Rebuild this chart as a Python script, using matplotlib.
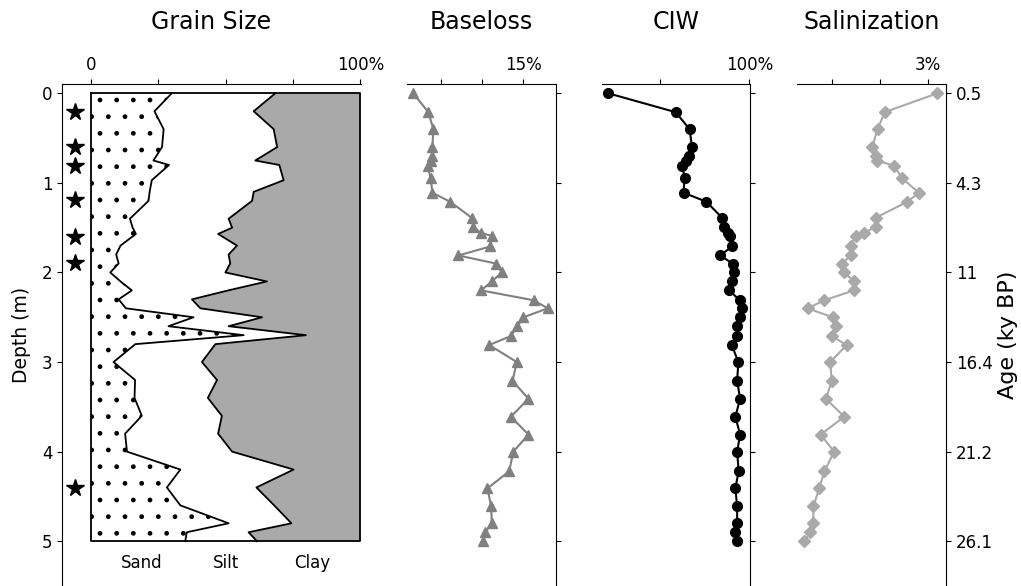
import matplotlib
matplotlib.use("Agg")
import matplotlib.pyplot as plt

# grain size (cumulative %, sampled down the core)
grain_depth = [0.0, 0.2, 0.4, 0.6, 0.75, 0.8, 0.97, 1.1, 1.2, 1.4, 1.5, 1.57, 1.7, 1.8,
               1.9, 2.0, 2.1, 2.2, 2.3, 2.4, 2.5, 2.6, 2.7, 2.8, 3.0, 3.2, 3.4, 3.6,
               3.8, 4.0, 4.2, 4.4, 4.6, 4.8, 4.9, 5.0]
sand = [30, 23.6, 27, 26.4, 23.2, 29, 22.6, 21.8, 21.4, 14.5, 15.5, 16.7, 11, 9.4,
        10.3, 7.2, 11, 15.2, 10.3, 13, 38.1, 28.8, 56.7, 16.5, 8.4, 16.4, 16.2, 18.9,
        12.7, 13.4, 33.2, 28.2, 33.2, 51.1, 35.6, 35]
sand_silt = [68.4, 60.4, 67.8, 69.1, 61, 69.9, 71.5, 60.4, 59.8, 51.1, 52.4, 47.2, 54.2, 51.1,
             51.7, 49.9, 65.3, 51, 37.5, 40.6, 63.5, 51.1, 79.8, 46.2, 41.2, 46.8, 43.4, 48.6,
             47.2, 52.4, 75.2, 61.4, 68, 74.4, 58.5, 61.6]
star_depth = [0.21, 0.6, 0.81, 1.19, 1.6, 1.89, 4.41]

# geochemistry samples
depth = [0.0, 0.21, 0.4, 0.6, 0.7, 0.75, 0.81, 0.95, 1.11, 1.21, 1.39, 1.49, 1.56, 1.59,
         1.71, 1.81, 1.9, 2.0, 2.1, 2.2, 2.31, 2.4, 2.5, 2.6, 2.71, 2.81, 3.0, 3.21,
         3.41, 3.61, 3.81, 4.0, 4.22, 4.41, 4.61, 4.8, 4.9, 5.0]
baseloss = [1.6, 3.45, 4.06, 3.94, 3.94, 3.78, 3.38, 3.74, 3.94, 6.1, 8.74, 8.94, 9.84, 11.18,
            10.98, 7.11, 11.67, 12.4, 11.18, 9.88, 16.26, 18.0, 15.04, 14.3, 13.5, 10.85, 14.23, 13.7,
            15.65, 13.5, 15.65, 13.8, 13.3, 10.65, 11.1, 11.18, 10.37, 10.16]
ciw = [52.8, 75.3, 80, 80.8, 79.7, 78.9, 77.6, 78.3, 78, 85.6, 90.9, 91.4, 92.8, 93.6,
       94.2, 90.2, 94.4, 95, 94.1, 93.3, 96.7, 97.6, 96.7, 95.9, 95.9, 94.1, 96.3, 95.9,
       96.9, 95.3, 96.9, 95.9, 96.4, 95.3, 95.9, 95.9, 95.3, 95.9]
salinization = [3.19, 2.10, 1.95, 1.84, 1.91, 1.94, 2.30, 2.46, 2.81, 2.57, 1.91, 1.91, 1.67, 1.50,
                1.39, 1.39, 1.22, 1.26, 1.46, 1.46, 0.85, 0.50, 1.02, 1.09, 1.0, 1.31, 0.97, 1.0,
                0.88, 1.26, 0.77, 1.05, 0.85, 0.74, 0.62, 0.62, 0.55, 0.43]

depth_ticks = [0, 1, 2, 3, 4, 5]
age_labels = ["0.5", "4.3", "11", "16.4", "21.2", "26.1"]

W, H = 1021, 586
plt.rcParams["hatch.color"] = "black"
fig = plt.figure(figsize=(W / 100, H / 100), dpi=100)

top = 1 - 84 / H
ylim = (5.5, -0.104)


def make_ax(left_px, right_px):
    return fig.add_axes([left_px / W, 0, (right_px - left_px) / W, top])


ax_g = make_ax(62, 361)
ax_b = make_ax(407, 556)
ax_c = make_ax(602, 750)
ax_s = make_ax(797, 946)

# grain size column
ax_g.fill_betweenx(grain_depth, 0, sand, facecolor="white", hatch=".", edgecolor="black", linewidth=0)
ax_g.fill_betweenx(grain_depth, sand_silt, 100, facecolor="darkgray", linewidth=0)
ax_g.plot(sand, grain_depth, color="black", lw=1.3)
ax_g.plot(sand_silt, grain_depth, color="black", lw=1.3)
ax_g.plot([0, 0, 100, 100, 0], [0, 5, 5, 0, 0], color="black", lw=1.3)
ax_g.plot([-6] * len(star_depth), star_depth, "*", color="black", markersize=13, clip_on=False)
for label, xv in [("Sand", 18.7), ("Silt", 50.2), ("Clay", 82)]:
    ax_g.text(xv, 5.24, label, ha="center", va="center", fontsize=12)
ax_g.set_xlim(-10.7, 100.2)
ax_g.set_xticks([0, 25, 50, 75, 100])
ax_g.set_xticklabels(["0", "", "", "", "100%"])
ax_g.set_yticks(depth_ticks)
ax_g.set_ylabel("Depth (m)", fontsize=13.5, labelpad=8)
for s in ["right", "bottom"]:
    ax_g.spines[s].set_visible(False)

# line panels
ax_b.plot(baseloss, depth, "-^", color="gray", lw=1.5, markersize=7)
ax_b.set_xlim(0.85, 19.0)
ax_b.set_xticks([5, 10, 15])
ax_b.set_xticklabels(["", "", "15%"])

ax_c.plot(ciw, depth, "-o", color="black", lw=1.5, markersize=7)
ax_c.set_xlim(50.7, 100.2)
ax_c.set_xticks([70, 100])
ax_c.set_xticklabels(["", "100%"])

ax_s.plot(salinization, depth, "-D", color="darkgray", lw=1.5, markersize=6)
ax_s.set_xlim(0.28, 3.37)
ax_s.set_xticks([1, 2, 3])
ax_s.set_xticklabels(["", "", "3%"])

for ax in [ax_b, ax_c, ax_s]:
    for s in ["left", "bottom"]:
        ax.spines[s].set_visible(False)
    ax.yaxis.tick_right()
    ax.set_yticks(depth_ticks)
    ax.set_yticklabels([])
ax_s.set_yticklabels(age_labels)
ax_s.yaxis.set_label_position("right")
ax_s.set_ylabel("Age (ky BP)", fontsize=16)

for ax in [ax_g, ax_b, ax_c, ax_s]:
    ax.set_ylim(*ylim)
    ax.xaxis.tick_top()
    ax.tick_params(labelsize=12)

titles = [("Grain Size", 211.5), ("Baseloss", 481.5), ("CIW", 676), ("Salinization", 871.5)]
for t, xp in titles:
    fig.text(xp / W, 1 - 22 / H, t, ha="center", va="center", fontsize=17)

fig.savefig("out.png", dpi=100)
